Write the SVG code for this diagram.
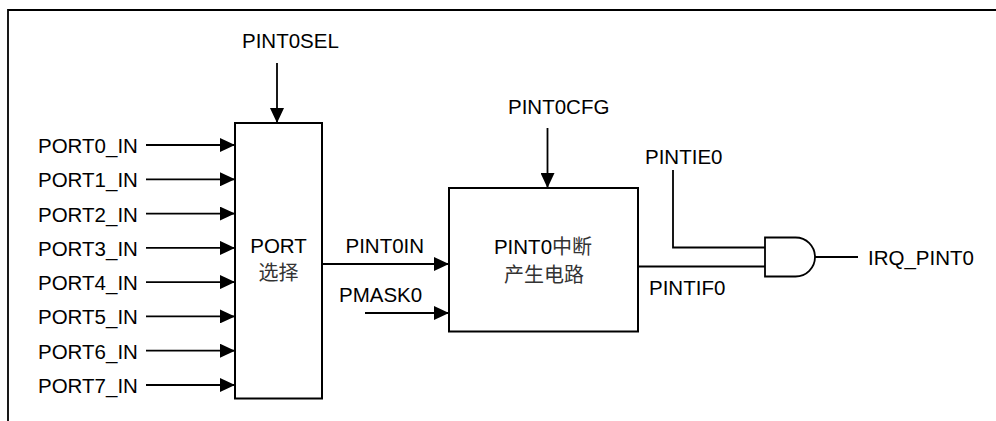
<svg xmlns="http://www.w3.org/2000/svg" width="996" height="421" viewBox="0 0 996 421">
<style>
.t{font-family:"Liberation Sans",Arial,"Noto Sans CJK SC",sans-serif;font-size:20.5px;fill:#000}
.c{font-family:"Noto Sans CJK SC",sans-serif;font-size:20px;fill:#333}
.ln{stroke:#000;stroke-width:1.8;fill:none}
.bx{stroke:#000;stroke-width:2;fill:#fff}
</style>
<defs>
<marker id="ah" viewBox="0 0 15 14" refX="15" refY="7" markerWidth="15" markerHeight="14" markerUnits="userSpaceOnUse" orient="auto">
<path d="M0,0 L15,7 L0,14 Z" fill="#000"/>
</marker>
</defs>
<rect width="996" height="421" fill="#fff"/>
<path class="ln" d="M996,10 H8 V421" stroke-width="1.6"/>
<g id="connectors">
<line class="ln" x1="277" y1="63" x2="277" y2="123" marker-end="url(#ah)"/>
<line class="ln" x1="547.5" y1="128" x2="547.5" y2="188" marker-end="url(#ah)"/>
<line class="ln" x1="146" y1="145" x2="235" y2="145" marker-end="url(#ah)"/>
<line class="ln" x1="146" y1="179.3" x2="235" y2="179.3" marker-end="url(#ah)"/>
<line class="ln" x1="146" y1="213.6" x2="235" y2="213.6" marker-end="url(#ah)"/>
<line class="ln" x1="146" y1="247.9" x2="235" y2="247.9" marker-end="url(#ah)"/>
<line class="ln" x1="146" y1="282.1" x2="235" y2="282.1" marker-end="url(#ah)"/>
<line class="ln" x1="146" y1="316.4" x2="235" y2="316.4" marker-end="url(#ah)"/>
<line class="ln" x1="146" y1="350.7" x2="235" y2="350.7" marker-end="url(#ah)"/>
<line class="ln" x1="146" y1="385" x2="235" y2="385" marker-end="url(#ah)"/>
<line class="ln" x1="322" y1="264" x2="449" y2="264" marker-end="url(#ah)"/>
<line class="ln" x1="365" y1="313" x2="449" y2="313" marker-end="url(#ah)"/>
<line class="ln" x1="638" y1="266.5" x2="765" y2="266.5"/>
<polyline class="ln" points="673,170 673,247.5 765,247.5"/>
<line class="ln" x1="815" y1="257" x2="858" y2="257"/>
</g>
<g id="port-select">
<rect class="bx" x="235" y="123" width="87" height="275.5"/>
<text class="t" x="278.5" y="253" text-anchor="middle">PORT</text>
<text class="c" x="278.5" y="280" text-anchor="middle">选择</text>
</g>
<g id="pint0-gen">
<rect class="bx" x="449" y="188" width="189" height="143.5"/>
<text class="t" x="543" y="254" text-anchor="middle">PINT0<tspan class="c">中断</tspan></text>
<text class="c" x="544" y="282" text-anchor="middle">产生电路</text>
</g>
<g id="and-gate">
<path class="ln" d="M765,237.5 H795.5 A19.5,19.5 0 0 1 795.5,276.5 H765 Z" fill="#fff" stroke-width="2"/>
</g>
<g id="labels">
<text class="t" x="242" y="48">PINT0SEL</text>
<text class="t" x="508" y="114">PINT0CFG</text>
<text class="t" x="38" y="153">PORT0_IN</text>
<text class="t" x="38" y="187.3">PORT1_IN</text>
<text class="t" x="38" y="221.6">PORT2_IN</text>
<text class="t" x="38" y="255.9">PORT3_IN</text>
<text class="t" x="38" y="290.1">PORT4_IN</text>
<text class="t" x="38" y="324.4">PORT5_IN</text>
<text class="t" x="38" y="358.7">PORT6_IN</text>
<text class="t" x="38" y="393">PORT7_IN</text>
<text class="t" x="345.5" y="253">PINT0IN</text>
<text class="t" x="339" y="302">PMASK0</text>
<text class="t" x="645" y="164">PINTIE0</text>
<text class="t" x="649" y="295">PINTIF0</text>
<text class="t" x="868" y="265">IRQ_PINT0</text>
</g>
</svg>
